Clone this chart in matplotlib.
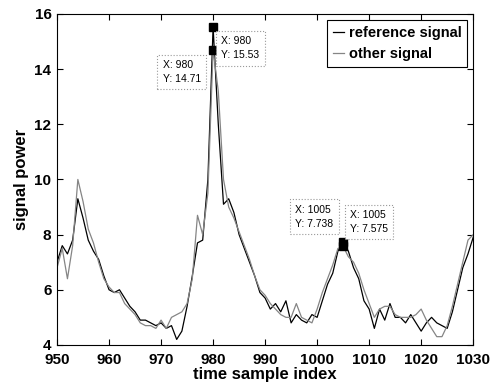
import numpy as np
import matplotlib.pyplot as plt

plt.rcParams['font.family'] = ['Liberation Sans', 'DejaVu Sans']

# time axis
t = np.arange(950, 1031)

# reference signal (dark line)
ref = [7.0, 7.6, 7.3, 7.8, 9.3, 8.6, 7.8, 7.4, 7.1, 6.5,
       6.0, 5.9, 6.0, 5.7, 5.4, 5.2, 4.9, 4.9, 4.8, 4.7,
       4.8, 4.6, 4.7, 4.2, 4.5, 5.4, 6.5, 7.7, 7.8, 10.0,
       15.53, 12.0, 9.1, 9.3, 8.8, 8.0, 7.5, 7.0, 6.5, 5.9,
       5.7, 5.3, 5.5, 5.2, 5.6, 4.8, 5.1, 4.9, 4.8, 5.1,
       5.0, 5.6, 6.2, 6.6, 7.4, 7.738, 7.4, 6.8, 6.4, 5.6,
       5.3, 4.6, 5.3, 4.9, 5.5, 5.0, 5.0, 4.8, 5.1, 4.8,
       4.5, 4.8, 5.0, 4.8, 4.7, 4.6, 5.2, 6.0, 6.8, 7.3,
       7.9]

# other signal (gray line)
other = [6.8, 7.5, 6.4, 7.6, 10.0, 9.2, 8.2, 7.7, 7.0, 6.4,
         6.1, 5.9, 5.9, 5.5, 5.3, 5.1, 4.8, 4.7, 4.7, 4.6,
         4.9, 4.6, 5.0, 5.1, 5.2, 5.5, 6.4, 8.7, 8.0, 9.5,
         14.71, 13.2, 10.0, 9.0, 8.6, 8.1, 7.6, 7.1, 6.5, 6.0,
         5.8, 5.5, 5.3, 5.1, 5.0, 5.0, 5.5, 5.0, 4.9, 4.8,
         5.3, 5.9, 6.4, 6.9, 7.5, 7.575, 7.2, 7.0, 6.6, 6.0,
         5.5, 5.0, 5.3, 5.4, 5.4, 5.1, 5.0, 5.0, 5.0, 5.1,
         5.3, 4.9, 4.6, 4.3, 4.3, 4.7, 5.4, 6.2, 7.0, 7.8,
         8.0]

# data tips: (x, y, text x, text y)
tips = [(980, 15.53, 981.6, 14.75),
        (980, 14.71, 970.3, 13.9),
        (1005, 7.738, 995.8, 8.65),
        (1005, 7.575, 1006.3, 8.45)]

fig = plt.figure(figsize=(4.96, 3.88), dpi=100)
ax = fig.add_axes([0.115, 0.111, 0.839, 0.853])

ax.plot(t, ref, color='black', lw=0.9, label='reference signal')
ax.plot(t, other, color='#858585', lw=0.9, label='other signal')

for x, y, tx, ty in tips:
    ax.plot(x, y, 's', color='black', ms=6)
    ax.text(tx, ty, 'X: %d\nY: %s' % (x, ('%.3f' % y).rstrip('0')),
            fontsize=7.5, ha='left', va='center', linespacing=1.5,
            bbox=dict(boxstyle='square,pad=0.5', fc='white', ec='#999999',
                      ls=':', lw=0.8))

ax.set_xlim(950, 1030)
ax.set_ylim(4, 16)
ax.set_xticks(np.arange(950, 1031, 10))
ax.set_yticks(np.arange(4, 17, 2))
ax.tick_params(direction='in', top=True, right=True, labelsize=11, length=4)
ax.tick_params(axis='x', pad=6)
ax.tick_params(axis='y', pad=4)
for lab in ax.get_xticklabels() + ax.get_yticklabels():
    lab.set_fontweight('bold')

ax.set_xlabel('time sample index', fontsize=12, fontweight='bold', labelpad=0)
ax.set_ylabel('signal power', fontsize=12, fontweight='bold', labelpad=4)

leg = ax.legend(loc='upper right', fancybox=False, edgecolor='black',
                handlelength=0.8, handletextpad=0.3, borderaxespad=0.4,
                prop={'weight': 'bold', 'size': 10.5}, framealpha=1)
leg.get_frame().set_linewidth(0.8)

fig.savefig('out.png', dpi=100)
